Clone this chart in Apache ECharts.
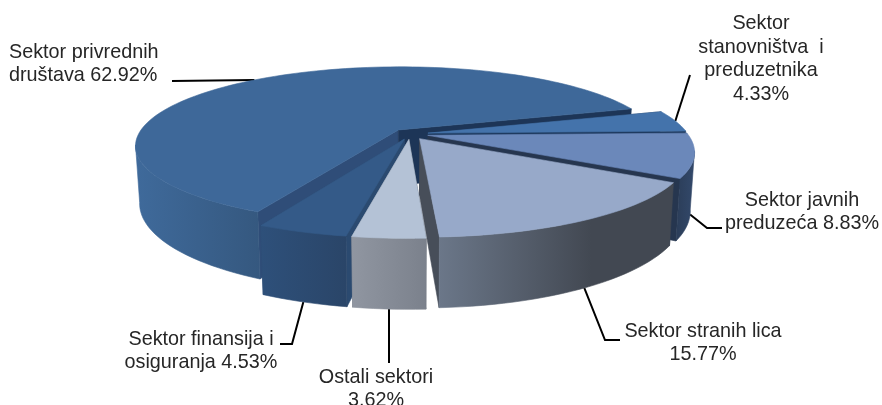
<!DOCTYPE html>
<html>
<head>
<meta charset="utf-8">
<style>
  html, body { margin: 0; padding: 0; background: #fff; overflow: hidden; }
  #chart { width: 882px; height: 405px; }
</style>
<script src="https://cdn.jsdelivr.net/npm/echarts@6/dist/echarts.min.js"></script>
</head>
<body>
<div id="chart"></div>
<script>
// clockwise from the cut just under the big slice
const categories = [
  "Sektor\nstanovništva  i\npreduzetnika\n",
  "Sektor javnih\npreduzeća ",
  "Sektor stranih lica\n",
  "Ostali sektori\n",
  "Sektor finansija i\nosiguranja ",
  "Sektor privrednih\ndruštava "
];
const values = [4.33, 8.83, 15.77, 3.62, 4.53, 62.92];

const topColors = ["#4473ab", "#6b88ba", "#97a9c9", "#b4c2d6", "#345a88", "#3e6899"];
const wallColors = [
  ["#35598a", "#2f4f7a"],
  ["#2b3d58", "#33496b"],
  ["#6b7789", "#424852"],
  ["#9096a1", "#7b818c"],
  ["#2e507a", "#2a4568"],
  ["#3f6a9b", "#35587f"]
];
// wall on the first and the last cut of each slice
const cutColors = [
  ["#1d3557", "#1e3a5f"],
  ["#1e3a5f", "#26364f"],
  ["#26364f", "#474e59"],
  ["#474e59", "#6d7480"],
  ["#2b4a70", "#2b4a70"],
  ["#2f4d78", "#1d3557"]
];
const drawOrder = [5, 0, 1, 4, 2, 3];

// perspective of the disc
const cx = 410, cy = 134, rx = 260, ry = 77, k = 0.197, explode = 0.07, depth = 56;
const startDeg = -17.2;

// label anchor, text align and the bends of the leader after the slice
const labelPos = [
  { x: 761, y: 59, align: "center", bends: [[690, 75]] },
  { x: 802, y: 212, align: "center", bends: [[707, 228], [722, 228]] },
  { x: 703, y: 343, align: "center", bends: [[605, 340], [620, 340]] },
  { x: 376, y: 389, align: "center", bends: [[389, 363]] },
  { x: 201, y: 351, align: "center", bends: [[292, 344], [280, 344]] },
  { x: 9, y: 64, align: "left", bends: [[172, 81]] }
];

const total = values.reduce((a, b) => a + b, 0);
const spans = [];
let acc = startDeg;
values.forEach(v => {
  spans.push([acc, acc + v / total * 360]);
  acc += v / total * 360;
});

function project(u, v, down) {
  const w = 1 - k * v;
  if (!down) return [cx + rx * u / w, cy + ry * v / w];
  return [cx + 0.985 * rx * u / w, cy + (ry * v + depth) / w];
}

function rimPoint(i, deg, down) {
  const mid = (spans[i][0] + spans[i][1]) / 2 * Math.PI / 180;
  const a = deg * Math.PI / 180;
  return project(Math.cos(a) + explode * Math.cos(mid), Math.sin(a) + explode * Math.sin(mid), down);
}

function apex(i, down) {
  const mid = (spans[i][0] + spans[i][1]) / 2 * Math.PI / 180;
  return project(explode * Math.cos(mid), explode * Math.sin(mid), down);
}

function arc(i, a, b, down) {
  const pts = [];
  const n = Math.max(1, Math.ceil(Math.abs(b - a) / 2));
  for (let j = 0; j <= n; j++) pts.push(rimPoint(i, a + (b - a) * j / n, down));
  return pts;
}

function poly(points, fill) {
  return { type: "polygon", shape: { points }, style: { fill, stroke: fill, lineWidth: 0.6 } };
}

function sliceItem(params, api) {
  const i = api.value(0);
  const [a, b] = spans[i];
  const children = [];

  children.push(poly([apex(i), rimPoint(i, a), rimPoint(i, a, true), apex(i, true)], cutColors[i][0]));
  children.push(poly([apex(i), rimPoint(i, b), rimPoint(i, b, true), apex(i, true)], cutColors[i][1]));

  // only the part of the rim that faces the viewer, up to the silhouette
  const wa = Math.max(a, 11), wb = Math.min(b, 169);
  if (wb > wa) {
    const wall = arc(i, wa, wb).concat(arc(i, wb, wa, true));
    children.push(poly(wall, new echarts.graphic.LinearGradient(1, 0, 0, 0, [
      { offset: 0, color: wallColors[i][1] },
      { offset: i === 2 ? 0.35 : 1, color: wallColors[i][i === 2 ? 1 : 0] },
      { offset: 1, color: wallColors[i][0] }
    ])));
  }

  children.push(poly([apex(i)].concat(arc(i, a, b)), topColors[i]));
  return { type: "group", children };
}

function labelItem(params, api) {
  const i = api.value(0);
  const pos = labelPos[i];
  const mid = (spans[i][0] + spans[i][1]) / 2;
  const front = Math.sin(mid * Math.PI / 180) > 0.2;
  const points = [rimPoint(i, mid, front)].concat(pos.bends);
  return {
    type: "group",
    children: [
      {
        type: "polyline",
        shape: { points },
        style: { stroke: "#000", lineWidth: 2, fill: null }
      },
      {
        type: "text",
        style: {
          x: pos.x,
          y: pos.y,
          text: categories[i] + values[i].toFixed(2) + "%",
          fill: "#262626",
          font: "19.8px 'Liberation Sans'",
          lineHeight: 23.5,
          align: pos.align,
          verticalAlign: "middle"
        }
      }
    ]
  };
}

const chart = echarts.init(document.getElementById("chart"), null, { renderer: "canvas" });
chart.setOption({
  animation: false,
  tooltip: { show: false },
  series: [
    {
      type: "custom",
      coordinateSystem: "none",
      silent: true,
      data: drawOrder,
      renderItem: sliceItem
    },
    {
      type: "custom",
      coordinateSystem: "none",
      silent: true,
      z: 1,
      data: values.map((_, i) => i),
      renderItem: labelItem
    }
  ]
});
</script>
</body>
</html>
